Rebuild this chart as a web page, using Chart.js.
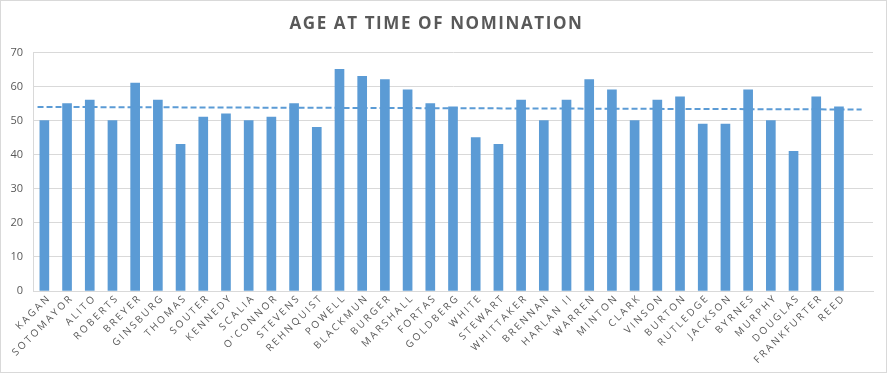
<!DOCTYPE html>
<html>
<head>
<meta charset="utf-8">
<script src="https://cdn.jsdelivr.net/npm/chart.js@4/dist/chart.umd.min.js"></script>
<style>
  html, body { margin: 0; padding: 0; background: #ffffff; }
  #wrap { width: 888px; height: 374px; }
</style>
</head>
<body>
<div id="wrap"><canvas id="c" width="888" height="374"></canvas></div>
<script>
const categories = ["KAGAN","SOTOMAYOR","ALITO","ROBERTS","BREYER","GINSBURG","THOMAS","SOUTER","KENNEDY","SCALIA","O'CONNOR","STEVENS","REHNQUIST","POWELL","BLACKMUN","BURGER","MARSHALL","FORTAS","GOLDBERG","WHITE","STEWART","WHITTAKER","BRENNAN","HARLAN II","WARREN","MINTON","CLARK","VINSON","BURTON","RUTLEDGE","JACKSON","BYRNES","MURPHY","DOUGLAS","FRANKFURTER","REED",""];
const ages = [50,55,56,50,61,56,43,51,52,50,51,55,48,65,63,62,59,55,54,45,43,56,50,56,62,59,50,56,57,49,49,59,50,41,57,54];
const trendIndex = [-0.3, 36];
const trendAges = [54.0, 53.25];
const yMin = 0, yMax = 70, yStep = 10;
const chartTitle = "AGE AT TIME OF NOMINATION";

const textColor = "#595959";
const gridColor = "#d9d9d9";
const barColor = "#5b9bd5";

const spacingPlugin = {
  id: "spacing",
  afterLayout(chart) {
    const xs = chart.scales.x;
    if (!xs._patched) {
      const orig = xs.drawLabels;
      xs.drawLabels = function (area) {
        const ctx = this.ctx;
        const prev = ctx.letterSpacing;
        ctx.letterSpacing = "2.3px";
        orig.call(this, area);
        ctx.letterSpacing = prev || "0px";
      };
      xs._patched = true;
    }
    const tb = chart.titleBlock;
    if (tb && !tb._patched) {
      const origT = tb.draw;
      tb.draw = function () {
        const ctx = this.ctx;
        const prev = ctx.letterSpacing;
        ctx.letterSpacing = "1.6px";
        origT.call(this);
        ctx.letterSpacing = prev || "0px";
      };
      tb._patched = true;
    }
  },
  afterDatasetsDraw(chart) {
    // linear trendline through the chart's own scales
    const ctx = chart.ctx;
    const xs = chart.scales.x, ys = chart.scales.y;
    const a = chart.chartArea;
    ctx.save();
    ctx.beginPath();
    ctx.rect(a.left, a.top, a.right - a.left, a.bottom - a.top);
    ctx.clip();
    ctx.strokeStyle = barColor;
    ctx.lineWidth = 2;
    ctx.setLineDash([6, 3]);
    ctx.beginPath();
    trendIndex.forEach((xi, k) => {
      const px = xs.getPixelForValue(xi);
      const py = ys.getPixelForValue(trendAges[k]);
      if (k === 0) ctx.moveTo(px, py); else ctx.lineTo(px, py);
    });
    ctx.stroke();
    ctx.restore();
  },
  afterDraw(chart) {
    const ctx = chart.ctx;
    ctx.save();
    ctx.strokeStyle = gridColor;
    ctx.lineWidth = 1;
    ctx.strokeRect(0.5, 0.5, 886, 372);
    ctx.restore();
  }
};

new Chart(document.getElementById("c"), {
  type: "bar",
  data: {
    labels: categories,
    datasets: [
      {
        label: "Age",
        data: ages,
        backgroundColor: barColor,
        borderWidth: 0,
        barThickness: 9
      }
    ]
  },
  options: {
    responsive: false,
    animation: false,
    devicePixelRatio: 1,
    layout: { padding: { left: 0, right: 15, top: 0, bottom: 0 } },
    plugins: {
      legend: { display: false },
      tooltip: { enabled: false },
      title: {
        display: true,
        text: chartTitle,
        color: textColor,
        font: { family: "'Open Sans'", size: 17, weight: "bold" },
        padding: { top: 14, bottom: 18 }
      }
    },
    scales: {
      x: {
        grid: { display: false, drawTicks: false },
        border: { display: true, color: gridColor },
        ticks: {
          color: textColor,
          font: { family: "'Open Sans'", size: 10 },
          maxRotation: 45,
          minRotation: 45,
          autoSkip: false,
          padding: 1,
          labelOffset: 5
        },
        afterFit(scale) { scale.height = 83; }
      },
      y: {
        min: yMin,
        max: yMax,
        grid: { color: gridColor, drawTicks: false },
        border: { display: true, color: gridColor },
        ticks: {
          stepSize: yStep,
          color: textColor,
          font: { family: "'Open Sans'", size: 11 },
          padding: 10
        },
        afterFit(scale) { scale.width = 33; }
      }
    }
  },
  plugins: [spacingPlugin]
});
</script>
</body>
</html>
